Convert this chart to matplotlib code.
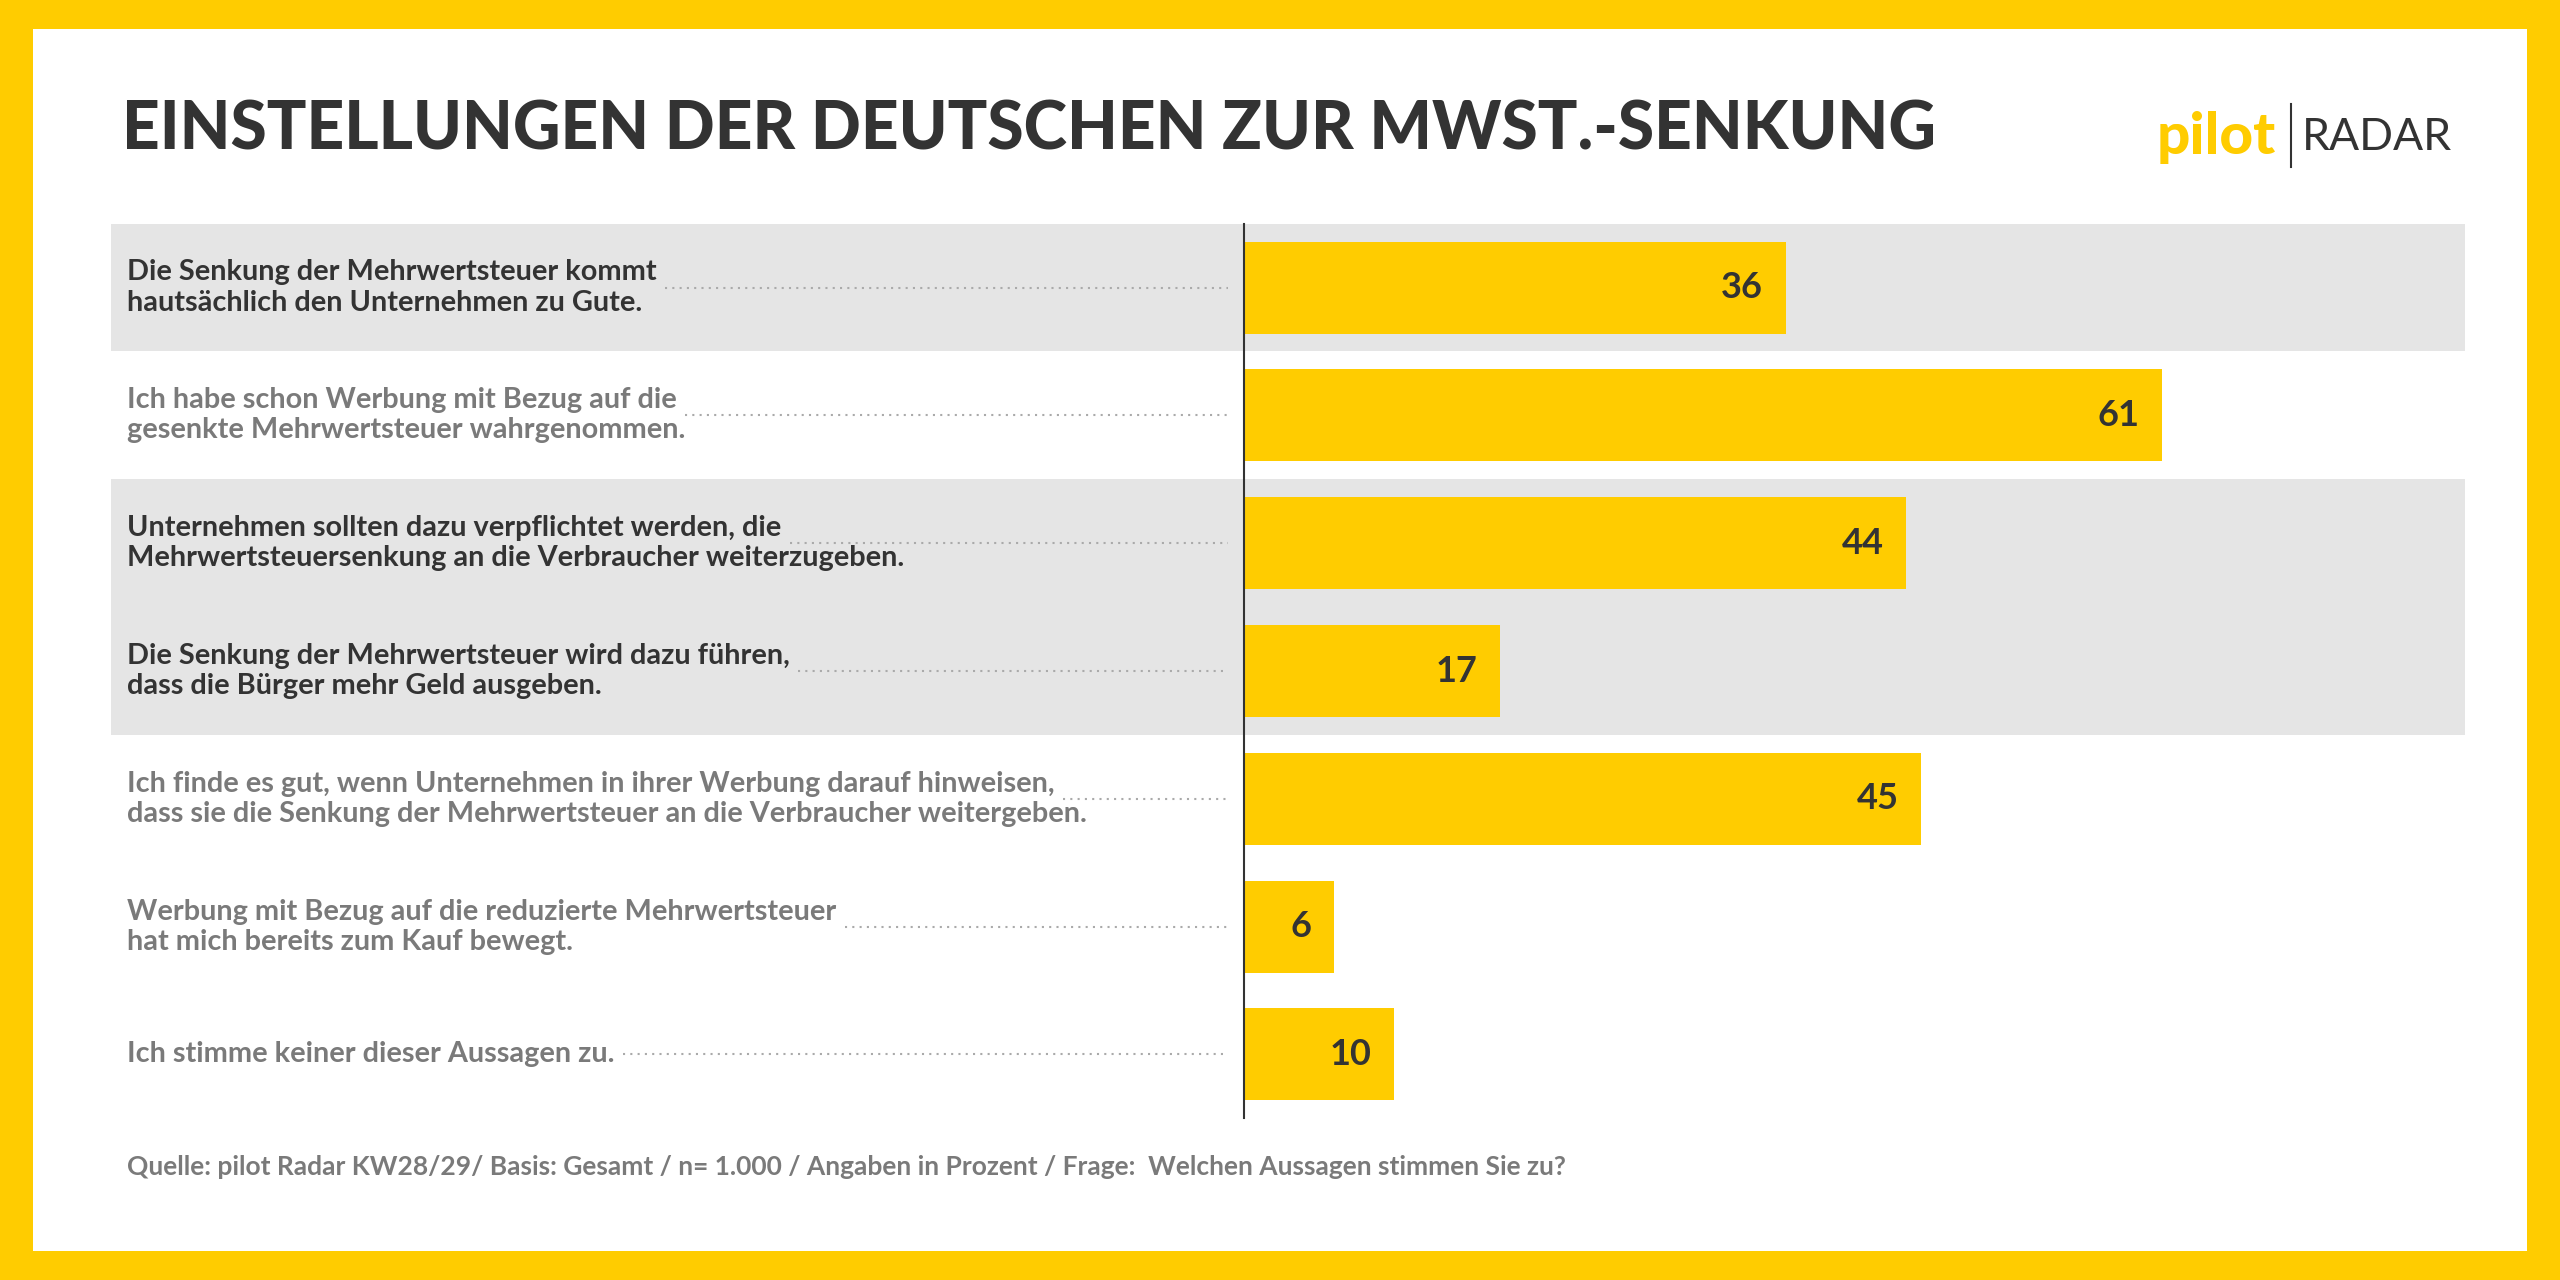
import matplotlib
matplotlib.use("Agg")
import matplotlib.pyplot as plt
from matplotlib.patches import Rectangle
from matplotlib.transforms import blended_transform_factory

statements = [
    "Die Senkung der Mehrwertsteuer kommt\nhautsächlich den Unternehmen zu Gute.",
    "Ich habe schon Werbung mit Bezug auf die\ngesenkte Mehrwertsteuer wahrgenommen.",
    "Unternehmen sollten dazu verpflichtet werden, die\nMehrwertsteuersenkung an die Verbraucher weiterzugeben.",
    "Die Senkung der Mehrwertsteuer wird dazu führen,\ndass die Bürger mehr Geld ausgeben.",
    "Ich finde es gut, wenn Unternehmen in ihrer Werbung darauf hinweisen,\ndass sie die Senkung der Mehrwertsteuer an die Verbraucher weitergeben.",
    "Werbung mit Bezug auf die reduzierte Mehrwertsteuer\nhat mich bereits zum Kauf bewegt.",
    "Ich stimme keiner dieser Aussagen zu.",
]
values = [36, 61, 44, 17, 45, 6, 10]
highlight = [True, False, True, True, False, False, False]
title = "EINSTELLUNGEN DER DEUTSCHEN ZUR MWST.-SENKUNG"
source = "Quelle: pilot Radar KW28/29/ Basis: Gesamt / n= 1.000 / Angaben in Prozent / Frage:  Welchen Aussagen stimmen Sie zu?"

YEL = "#FFCC00"
DARK = "#333333"
GREY = "#7a7a7a"
plt.rcParams['font.family'] = ['Lato', 'DejaVu Sans']

W, H = 1568, 784
LFS = 20.8
fig = plt.figure(figsize=(25.6, 12.8), dpi=100, facecolor=YEL)
fig.patches.append(Rectangle((20/W, 18/H), 1528/W, 748/H, transform=fig.transFigure,
                             facecolor="white", edgecolor="none", zorder=-5))

ax = fig.add_axes([762/W, 1-685/H, (1510-762)/W, (685-137)/H])
ax.set_zorder(1)
ax.set_facecolor("none")
n = len(values)
ax.set_ylim(n - 0.5, -0.5)
ax.set_xlim(0, (1510-762)/((1324-762)/61))
for s in ["top", "right", "bottom"]:
    ax.spines[s].set_visible(False)
ax.spines["left"].set_color(DARK)
ax.spines["left"].set_linewidth(1.5)
ax.spines["left"].set_zorder(5)
ax.set_xticks([]); ax.set_yticks([])

ys = list(range(n))
ax.barh(ys, values, height=0.72, color=YEL, zorder=3)
for y, v in zip(ys, values):
    ax.text(v - 1.5, y, str(v), ha="right", va="center", fontsize=26,
            fontweight="bold", color=DARK, zorder=4)

tr = blended_transform_factory(fig.transFigure, ax.transData)
for y, h in zip(ys, highlight):
    if h:
        ax.add_patch(Rectangle((68/W, y-0.5), (1510-68)/W, 1.0, transform=tr,
                               facecolor="#e5e5e5", edgecolor="none", zorder=0, clip_on=False))

for y, s, h in zip(ys, statements, highlight):
    ax.text(78/W, y, s, transform=tr, ha="left", va="center", fontsize=LFS,
            fontweight="bold", color=DARK if h else GREY, linespacing=1.2,
            clip_on=False, zorder=4)

fig.canvas.draw()
r = fig.canvas.get_renderer()
for y, s in zip(ys, statements):
    first = s.split("\n")[0]
    tmp = fig.text(0, 0, first, fontsize=LFS, fontweight="bold")
    wpx = tmp.get_window_extent(r).width
    tmp.remove()
    x0 = 78/W + (wpx + 8)/fig.bbox.width
    ax.plot([x0, 752/W], [y, y], transform=tr, clip_on=False, color="#aaaaaa",
            linestyle=(0, (1, 2.5)), linewidth=1.5, zorder=2)

fig.text(75/W, 1-80/H, title, fontsize=47.3, fontweight="black", color=DARK, va="center", ha="left")
fig.text(78/W, 1-715/H, source, fontsize=19, fontweight="bold", color=GREY, va="center", ha="left")

fig.text(1394/W, 1-84/H, "pilot", fontsize=42, fontweight="black", color=YEL, ha="right", va="center")
fig.add_artist(plt.Line2D([1403/W, 1403/W], [1-64/H, 1-102/H], color=DARK, lw=1.5))
fig.text(1410/W, 1-84/H, "RADAR", fontsize=32, fontweight="normal", color=DARK, ha="left", va="center")

fig.savefig("out.png", dpi=100, facecolor=YEL)
